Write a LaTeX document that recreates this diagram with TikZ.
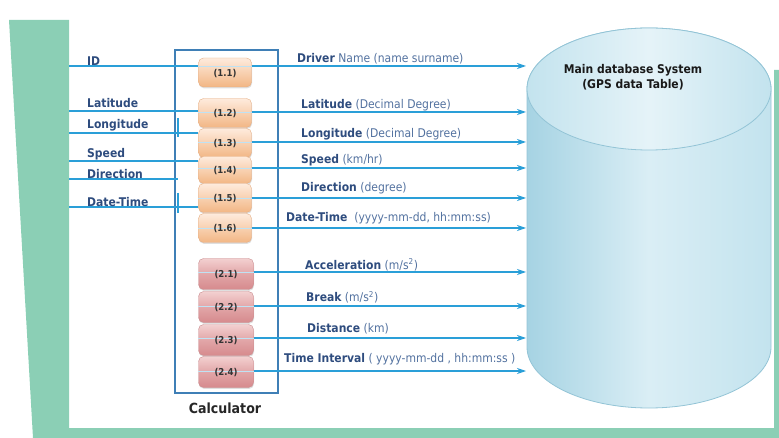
\documentclass[tikz,border=0pt]{standalone}
\usepackage{fontspec}
\setmainfont{DejaVu Sans}[FakeStretch=0.9]
\usetikzlibrary{arrows.meta,shadows}

\definecolor{frame}{HTML}{8BCFB5}
\definecolor{wire}{HTML}{2A9FD8}
\definecolor{calcblue}{HTML}{3F7FB6}
\definecolor{ink}{HTML}{2E4C7E}
\definecolor{soft}{HTML}{52719F}
\definecolor{orTop}{HTML}{FEEBDD}
\definecolor{orBot}{HTML}{F2B684}
\definecolor{orEdge}{HTML}{E5AE84}
\definecolor{rdTop}{HTML}{F3D0D0}
\definecolor{rdBot}{HTML}{D68A8D}
\definecolor{rdEdge}{HTML}{C98C8F}
\definecolor{dbEdge}{HTML}{93C4D6}
\definecolor{dbDark}{HTML}{A6D3E3}
\definecolor{dbLight}{HTML}{DAEEF5}
\definecolor{dbMid}{HTML}{C3E3EE}

\tikzset{
  lbl/.style={font=\fontsize{12}{13}\selectfont\bfseries, text=ink, anchor=west, inner sep=0pt},
  outlbl/.style={font=\fontsize{12}{13}\selectfont, text=soft, anchor=west, inner sep=0pt},
  wireline/.style={draw=wire, line width=1.1pt},
  arr/.style={wireline, -{Stealth[length=9pt,width=6pt]}},
  faint/.style={draw=wire!30, line width=0.6pt},
  unit/.style={rounded corners=5pt, minimum width=53pt, minimum height=29pt, inner sep=0pt,
    drop shadow={opacity=0.25, shadow xshift=0.6pt, shadow yshift=-1.4pt}},
  unittxt/.style={font=\fontsize{9.5}{10}\selectfont\bfseries, text=black!80, inner sep=0pt},
  orunit/.style={unit, draw=orEdge, top color=orTop, bottom color=orBot, middle color=orBot!50!orTop},
  rdunit/.style={unit, draw=rdEdge, top color=rdTop, bottom color=rdBot, middle color=rdBot!60!rdTop, minimum width=55pt, minimum height=31pt},
  calcbox/.style={draw=calcblue, line width=1.1pt, minimum width=103pt, minimum height=343pt, inner sep=0pt},
}

\begin{document}
\begin{tikzpicture}[x=1pt, y=-1pt]
\useasboundingbox (0,0) rectangle (779,438);

% green frame
\fill[frame] (9,20) -- (69,20) -- (69,428) -- (774,428) -- (774,70) -- (779,70)
  -- (779,438) -- (33,438) -- cycle;

% database cylinder
\path[draw=dbEdge, line width=0.8pt, left color=dbDark, right color=dbMid, middle color=dbLight]
  (527,89) -- (527,347) arc[start angle=180, end angle=360, x radius=122pt, y radius=61pt]
  -- (771,89) arc[start angle=0, end angle=180, x radius=122pt, y radius=61pt] -- cycle;
\path[draw=dbEdge, line width=0.8pt, left color=dbMid, right color=dbMid, middle color=dbLight!70!white]
  (649,89) ellipse[x radius=122pt, y radius=61pt];
\node[font=\fontsize{12}{15}\selectfont\bfseries, text=black!90, align=center] (dbtitle)
  at (633,77) {Main database System\\(GPS data Table)};

% calculator frame
\node[calcbox] (calc) at (226.5,221.5) {};
\node[font=\fontsize{14}{15}\selectfont\bfseries, text=black!85] (calclbl) at (225,408) {Calculator};

% unit boxes
\node[orunit] (b11) at (225,72.5) {};
\node[orunit] (b12) at (225,113) {};
\node[orunit] (b13) at (225,143) {};
\node[orunit, minimum height=27pt] (b14) at (225,170) {};
\node[orunit] (b15) at (225,198) {};
\node[orunit] (b16) at (225,228) {};
\node[rdunit] (b21) at (226,274) {};
\node[rdunit] (b22) at (226,307) {};
\node[rdunit] (b23) at (226,340) {};
\node[rdunit] (b24) at (226,372) {};

% input wires
\coordinate (s1) at (69,66);
\coordinate (s2) at (69,111);
\coordinate (s3) at (69,133);
\coordinate (s4) at (69,161);
\coordinate (s5) at (69,179);
\coordinate (s6) at (69,207);
\coordinate (k1) at (178,118);
\coordinate (k2) at (178,137);
\coordinate (k3) at (178,193);
\coordinate (k4) at (178,213);
\draw[wireline] (s1) -- (s1 -| b11.west);
\draw[wireline] (s2) -- (s2 -| b12.west);
\draw[wireline] (s3) -- (s3 -| b13.west);
\draw[wireline] (s4) -- (s4 -| b14.west);
\draw[wireline] (s5) -- (s5 -| k1);
\draw[wireline] (s6) -- (s6 -| b15.west);
\draw[wireline] (k1) -- (k2);
\draw[wireline] (k3) -- (k4);

\node[lbl] (iid) at (87,61) {ID};
\node[lbl] (ilat) at (87,103) {Latitude};
\node[lbl] (ilon) at (87,125) {Longitude};
\node[lbl] (ispd) at (87,154) {Speed};
\node[lbl] (idir) at (87,174) {Direction};
\node[lbl] (idt) at (87,202) {Date-Time};

% output arrows into the database
\coordinate (t1) at (526,66);
\coordinate (t2) at (526,112);
\coordinate (t3) at (526,142);
\coordinate (t4) at (526,168);
\coordinate (t5) at (526,198);
\coordinate (t6) at (526,228);
\coordinate (t7) at (526,272);
\coordinate (t8) at (526,306);
\coordinate (t9) at (526,338);
\coordinate (t10) at (526,371);
\foreach \b/\t in {b11/t1, b12/t2, b13/t3, b14/t4, b15/t5, b16/t6, b21/t7, b22/t8, b23/t9, b24/t10}{
  \draw[faint] (\b.west |- \t) -- (\b.east |- \t);
  \draw[arr] (\b.east |- \t) -- (\t);
}

% unit numbers, set over the wires
\foreach \b/\n in {b11/1.1, b12/1.2, b13/1.3, b14/1.4, b15/1.5, b16/1.6, b21/2.1, b22/2.2, b23/2.3, b24/2.4}{
  \node[unittxt] (\b-txt) at ([yshift=-1pt]\b.center) {(\n)};
}

\newcommand\hd[1]{\textbf{\color{ink}#1}}
\node[outlbl] (odrv) at (297,59) {\hd{Driver} Name (name surname)};
\node[outlbl] (olat) at (301,105) {\hd{Latitude} (Decimal Degree)};
\node[outlbl] (olon) at (301,134) {\hd{Longitude} (Decimal Degree)};
\node[outlbl] (ospd) at (301,160) {\hd{Speed} (km/hr)};
\node[outlbl] (odir) at (301,188) {\hd{Direction} (degree)};
\node[outlbl] (odt) at (286,218) {\hd{Date-Time}\ \ (yyyy-mm-dd, hh:mm:ss)};
\node[outlbl] (oacc) at (305,265) {\hd{Acceleration} (m/s\textsuperscript{2})};
\node[outlbl] (obrk) at (306,297) {\hd{Break} (m/s\textsuperscript{2})};
\node[outlbl] (odst) at (307,329) {\hd{Distance} (km)};
\node[outlbl] (otim) at (284,359) {\hd{Time Interval} ( yyyy-mm-dd , hh:mm:ss )};
\end{tikzpicture}
\end{document}
